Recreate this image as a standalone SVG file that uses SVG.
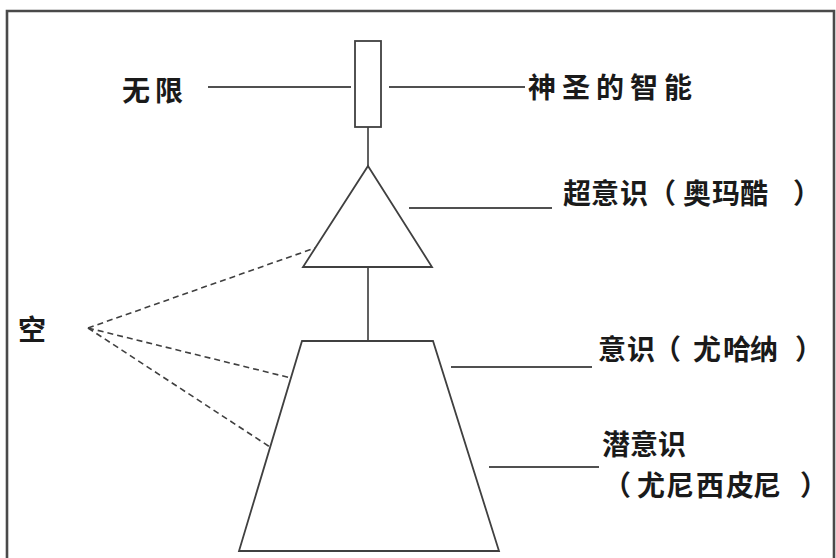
<svg xmlns="http://www.w3.org/2000/svg" width="836" height="558" viewBox="0 0 836 558">
<style>
.shape{fill:#fff;stroke:#404040;stroke-width:1.8}
.ln{stroke:#505050;stroke-width:1.8;fill:none}
.dash{stroke:#404040;stroke-width:1.6;stroke-dasharray:6 4;fill:none}
.t{font-family:"Noto Sans CJK SC","Noto Sans",sans-serif;font-size:28px;font-weight:bold;fill:#1a1a1a}
</style>
<rect x="0" y="0" width="836" height="558" fill="#fff"/>
<path d="M7,560 L7,11 L834,11 L834,560" fill="none" stroke="#4a4a4a" stroke-width="2.6"/>
<g id="connectors">
<line class="ln" x1="208" y1="87" x2="351" y2="87"/>
<line class="ln" x1="389" y1="87" x2="525" y2="87"/>
<line class="ln" x1="368" y1="127" x2="368" y2="166"/>
<line class="ln" x1="409" y1="208" x2="552" y2="208"/>
<line class="ln" x1="368" y1="267" x2="368" y2="341"/>
<line class="ln" x1="451" y1="367" x2="592" y2="367"/>
<line class="ln" x1="489" y1="467" x2="599" y2="467"/>
<line class="dash" x1="88" y1="328" x2="315" y2="248"/>
<line class="dash" x1="88" y1="328" x2="291" y2="378"/>
<line class="dash" x1="88" y1="328" x2="270" y2="447"/>
</g>
<g id="infinite-node"><rect class="shape" x="355" y="41" width="26" height="86"/></g>
<g id="superconscious-node"><polygon class="shape" points="368,166 432,267 303,267"/></g>
<g id="conscious-node"><polygon class="shape" points="302,341 433,341 499,551 239,551"/></g>
<g id="labels">
<text class="t" x="122 155" y="101">无限</text>
<text class="t" x="528 562 596 630 664" y="98">神圣的智能</text>
<text class="t" x="563 591 620 648 683 712 740 793" y="204">超意识（奥玛酷）</text>
<text class="t" x="18" y="340">空</text>
<text class="t" x="598 627 653 693 723 750 795" y="360">意识（尤哈纳）</text>
<text class="t"><tspan x="602 630 658" y="455">潜意识</tspan><tspan x="603 637 666 696 726 753 800" y="496">（尤尼西皮尼）</tspan></text>
</g>
</svg>
